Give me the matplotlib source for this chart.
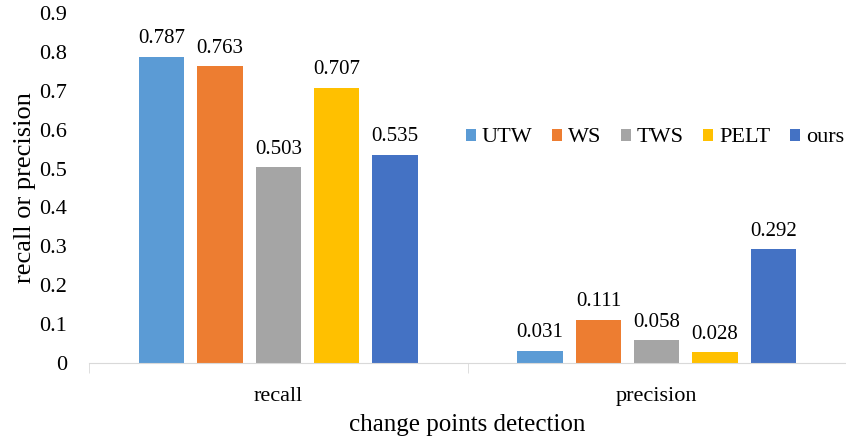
import numpy as np
import matplotlib
matplotlib.use("Agg")
import matplotlib.pyplot as plt

categories = ["recall", "precision"]
methods = ["UTW", "WS", "TWS", "PELT", "ours"]
utw = [0.787, 0.031]
ws = [0.763, 0.111]
tws = [0.503, 0.058]
pelt = [0.707, 0.028]
ours = [0.535, 0.292]
colors = ["#5B9BD5", "#ED7D31", "#A5A5A5", "#FFC000", "#4472C4"]

plt.rcParams["font.family"] = ["Liberation Serif", "DejaVu Serif"]

fig = plt.figure(figsize=(8.46, 4.38), dpi=100)
ax = fig.add_axes([89 / 846, 75 / 438, 757 / 846, 350 / 438])

x = np.arange(len(categories))
width = 0.12
pitch = 0.154
series = [utw, ws, tws, pelt, ours]
for i, (name, vals, c) in enumerate(zip(methods, series, colors)):
    pos = x + (i - 2) * pitch
    bars = ax.bar(pos, vals, width, color=c, label=name)
    for b, v in zip(bars, vals):
        ax.text(b.get_x() + b.get_width() / 2, v + 0.022, f"{v:.3f}",
                ha="center", va="bottom", fontsize=15)

ax.set_xlim(-0.5, 1.48)
ax.set_ylim(0, 0.9)
ax.set_yticks(np.arange(0, 0.91, 0.1))
ax.set_yticklabels(["0"] + [f"{t:.1f}" for t in np.arange(0.1, 0.91, 0.1)], fontsize=16)
ax.tick_params(axis="y", length=0, pad=16)

ax.set_xticks(x)
ax.set_xticklabels(categories, fontsize=16)
ax.set_xticks([-0.5, 0.5, 1.5, 0, 1], minor=True)
ax.tick_params(axis="x", which="major", length=0, pad=17)
ax.tick_params(axis="x", which="minor", length=7, color="#D9D9D9")

for s in ["top", "right", "left"]:
    ax.spines[s].set_visible(False)
ax.spines["bottom"].set_color("#D9D9D9")

ax.set_xlabel("change points detection", fontsize=18, labelpad=6)
ax.set_ylabel("recall or precision", fontsize=19, labelpad=2)

fig.legend(loc="center right", bbox_to_anchor=(1.0, 1 - 138 / 438), ncol=5,
           frameon=False, fontsize=16, handlelength=0.45, handleheight=0.45,
           handletextpad=0.25, columnspacing=0.9, borderpad=0, borderaxespad=0.1)

fig.savefig("out.png", dpi=100)
